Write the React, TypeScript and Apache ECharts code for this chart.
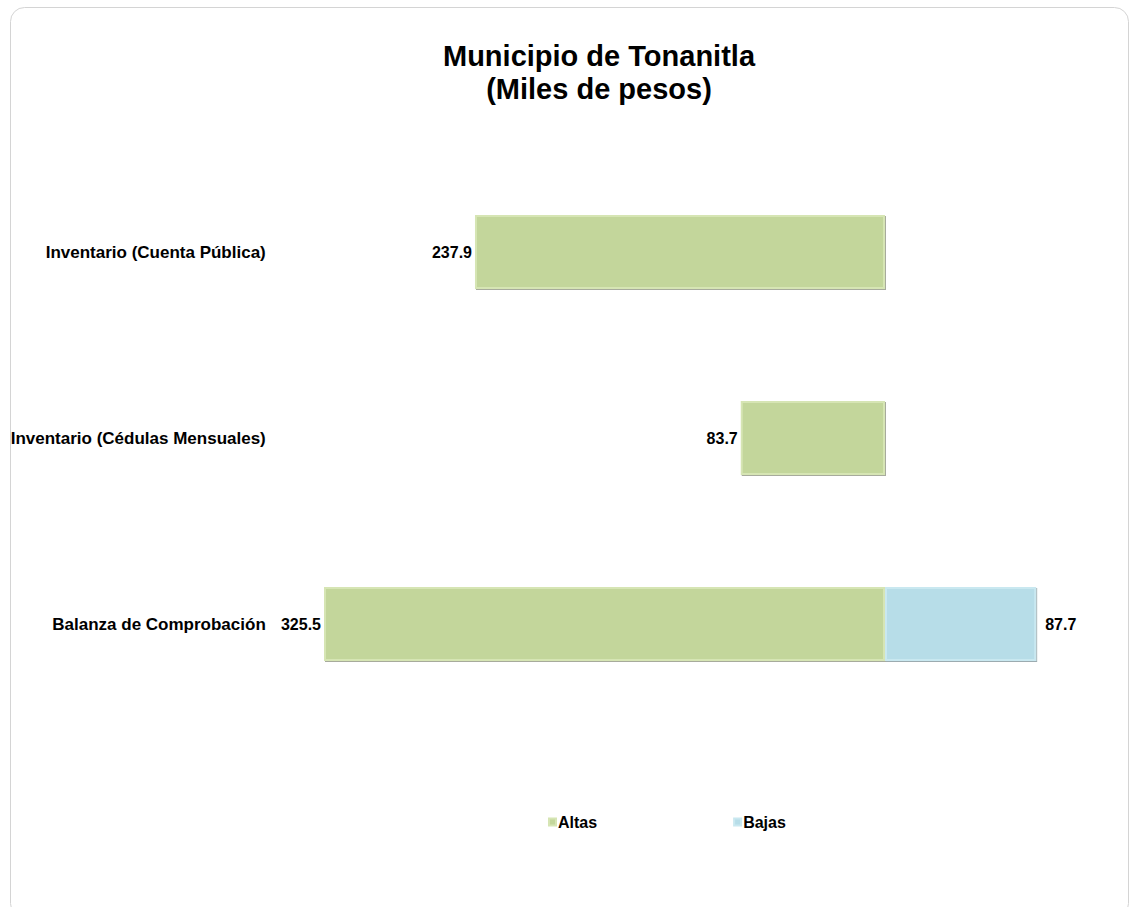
import React, { useEffect, useRef } from "react";
import * as echarts from "echarts";

const categories = [
  "Inventario (Cuenta Pública)",
  "Inventario (Cédulas Mensuales)",
  "Balanza de Comprobación",
];
const altas = [237.9, 83.7, 325.5];
const bajas = [0, 0, 87.7];
const seriesNames = ["Altas", "Bajas"];

const FONT = "'Liberation Sans', Arial, sans-serif";

export default function App() {
  const ref = useRef<HTMLDivElement>(null);
  useEffect(() => {
    if (!ref.current) return;
    const chart = echarts.init(ref.current, null, { renderer: "svg" });
    const k = 561 / 325.5;
    const zeroX = 885;
    const min = -350;
    const max = 100;
    chart.setOption({
      animation: false,
      backgroundColor: "#ffffff",
      textStyle: { fontFamily: FONT },
      title: {
        text: "Municipio de Tonanitla\n(Miles de pesos)",
        left: 594,
        top: 34,
        textAlign: "center",
        textStyle: {
          fontFamily: FONT,
          fontWeight: "bold",
          fontSize: 29,
          lineHeight: 33,
          color: "#000",
        },
      },
      graphic: [
        {
          type: "rect",
          shape: { x: 10.5, y: 7.5, width: 1118, height: 910, r: 14 },
          style: { fill: "none", stroke: "#d4d4d4", lineWidth: 1 },
          silent: true,
          z: -10,
        },
      ],
      legend: {
        left: 543,
        top: 809,
        itemWidth: 7,
        itemHeight: 7,
        itemGap: 136,
        icon: "rect",
        textStyle: {
          fontFamily: FONT,
          fontWeight: "bold",
          fontSize: 16,
          color: "#000",
          padding: [0, 0, 0, -3],
        },
        data: seriesNames,
      },
      grid: {
        left: zeroX + min * k,
        width: (max - min) * k,
        top: 159,
        height: 558,
      },
      xAxis: {
        type: "value",
        min,
        max,
        show: false,
        splitLine: { show: false },
      },
      yAxis: {
        type: "category",
        inverse: true,
        data: categories,
        axisLine: { show: false },
        axisTick: { show: false },
        axisLabel: {
          margin: 16,
          fontFamily: FONT,
          fontWeight: "bold",
          fontSize: 17,
          color: "#000",
        },
      },
      series: [
        {
          name: seriesNames[0],
          type: "bar",
          stack: "total",
          barWidth: 74,
          data: altas.map((v) => -v),
          itemStyle: {
            color: "#c3d69b",
            borderColor: "#d6e5b4",
            borderWidth: 2,
            shadowColor: "rgba(60,70,40,0.45)",
            shadowBlur: 1,
            shadowOffsetX: 1,
            shadowOffsetY: 1,
          },
          label: {
            show: true,
            position: "left",
            distance: 3,
            fontFamily: FONT,
            fontWeight: "bold",
            fontSize: 16,
            color: "#000",
            formatter: (p: any) => Math.abs(p.value).toFixed(1),
          },
        },
        {
          name: seriesNames[1],
          type: "bar",
          stack: "total",
          barWidth: 74,
          data: bajas.map((v) => ({
            value: v,
            label: { show: v !== 0 },
          })),
          itemStyle: {
            color: "#b7dde8",
            borderColor: "#c9e8f0",
            borderWidth: 2,
            shadowColor: "rgba(40,70,80,0.45)",
            shadowBlur: 1,
            shadowOffsetX: 1,
            shadowOffsetY: 1,
          },
          label: {
            show: true,
            position: "right",
            distance: 9,
            fontFamily: FONT,
            fontWeight: "bold",
            fontSize: 16,
            color: "#000",
            formatter: (p: any) => Number(p.value).toFixed(1),
          },
        },
      ],
    });
    return () => chart.dispose();
  }, []);
  return (
    <div
      ref={ref}
      style={{ position: "fixed", left: 0, top: 0, width: 1135, height: 907 }}
    />
  );
}
